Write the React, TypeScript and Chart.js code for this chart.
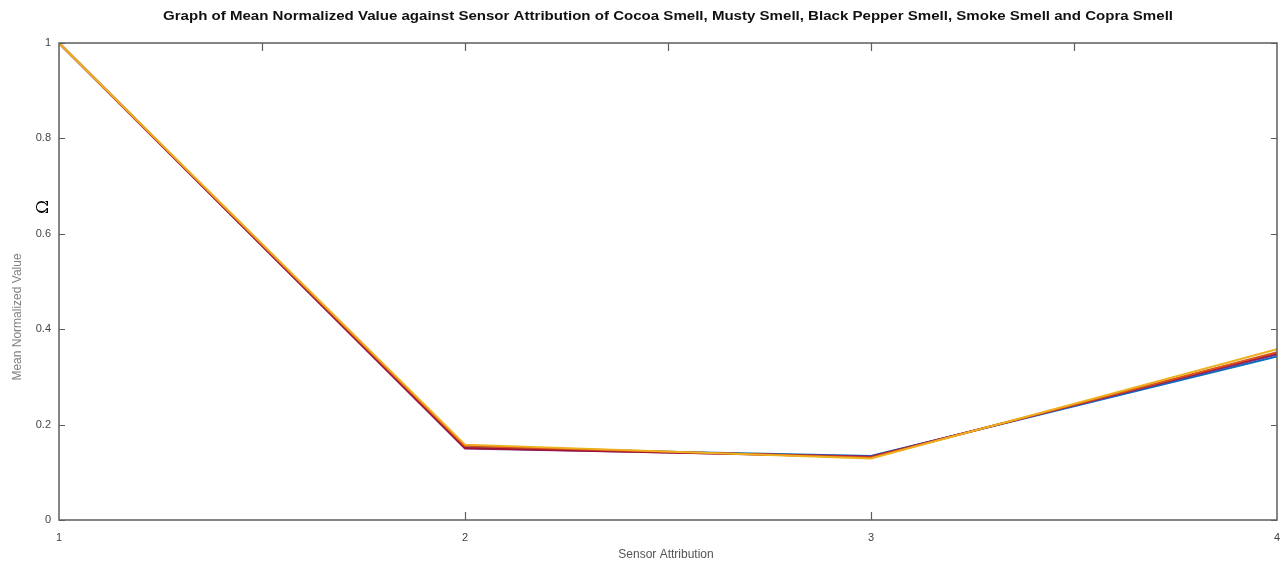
import React, { useEffect, useRef } from "react";
import { Chart, registerables } from "chart.js";

Chart.register(...registerables);

const TITLE =
  "Graph of Mean Normalized Value against Sensor Attribution of Cocoa Smell, Musty Smell, Black Pepper Smell, Smoke Smell and Copra Smell";
const X_TITLE = "Sensor Attribution";
const Y_TITLE = "Mean Normalized Value";
const OMEGA = "Ω";

const sensorAttribution = [1, 2, 3, 4];
const seriesNames = ["Cocoa Smell", "Musty Smell", "Black Pepper Smell", "Smoke Smell", "Copra Smell"];
const cocoa = [1, 0.152, 0.134, 0.343];
const musty = [1, 0.155, 0.131, 0.352];
const blackPepper = [1, 0.158, 0.129, 0.358];
const smoke = [1, 0.15, 0.133, 0.347];
const copra = [1, 0.151, 0.132, 0.35];
const seriesColors = ["#0072BD", "#D95319", "#EDB120", "#7E2F8E", "#A2142F"];
const yTicks = [0, 0.2, 0.4, 0.6, 0.8, 1];
const topTicks = [1.5, 2, 2.5, 3, 3.5];
const bottomTicks = [2, 3];

const allSeries = [cocoa, musty, blackPepper, smoke, copra];
// Chart.js paints the first dataset on top: yellow/orange on top, blue at the bottom
const drawOrder = [2, 1, 4, 3, 0];

const decor = {
  id: "decor",
  afterDraw(chart: any) {
    const { ctx, chartArea: a, scales } = chart;
    const x = scales.x;
    const y = scales.y;
    ctx.save();
    ctx.strokeStyle = "#5e5e5e";
    ctx.lineWidth = 1.5;
    ctx.strokeRect(a.left, a.top, a.right - a.left, a.bottom - a.top);
    ctx.lineWidth = 1.2;
    ctx.beginPath();
    yTicks.forEach((v) => {
      const py = Math.round(y.getPixelForValue(v)) + 0.5;
      ctx.moveTo(a.left, py);
      ctx.lineTo(a.left + 6, py);
      ctx.moveTo(a.right, py);
      ctx.lineTo(a.right - 6, py);
    });
    topTicks.forEach((v) => {
      const px = Math.round(x.getPixelForValue(v)) + 0.5;
      ctx.moveTo(px, a.top);
      ctx.lineTo(px, a.top + 8);
    });
    bottomTicks.forEach((v) => {
      const px = Math.round(x.getPixelForValue(v)) + 0.5;
      ctx.moveTo(px, a.bottom);
      ctx.lineTo(px, a.bottom - 8);
    });
    ctx.stroke();

    ctx.fillStyle = "#111";
    ctx.font = "bold 12px 'Liberation Sans', Arial, sans-serif";
    ctx.textAlign = "center";
    ctx.textBaseline = "middle";
    const w = ctx.measureText(TITLE).width;
    ctx.save();
    ctx.translate(668, 17);
    ctx.scale(1010 / w, 1);
    ctx.fillText(TITLE, 0, 0);
    ctx.restore();

    ctx.fillStyle = "#555";
    ctx.font = "12px 'Liberation Sans', Arial, sans-serif";
    ctx.fillText(X_TITLE, 666, 555);

    ctx.save();
    ctx.translate(18, 317);
    ctx.rotate(-Math.PI / 2);
    ctx.fillStyle = "#808080";
    ctx.fillText(Y_TITLE, 0, 0);
    ctx.restore();

    ctx.save();
    ctx.translate(44, 207);
    ctx.rotate(-Math.PI / 2);
    ctx.fillStyle = "#000";
    ctx.font = "17px 'DejaVu Serif', serif";
    ctx.fillText(OMEGA, 0, 0);
    ctx.restore();
    ctx.restore();
  },
};

export default function App() {
  const ref = useRef<HTMLCanvasElement | null>(null);
  useEffect(() => {
    if (!ref.current) return;
    const datasets = drawOrder.map((i) => ({
      label: seriesNames[i],
      data: sensorAttribution.map((xv, k) => ({ x: xv, y: allSeries[i][k] })),
      borderColor: seriesColors[i],
      backgroundColor: seriesColors[i],
      borderWidth: 2,
      pointRadius: 0,
      tension: 0,
      fill: false,
    }));
    const chart = new Chart(ref.current, {
      type: "line",
      data: { datasets },
      plugins: [decor],
      options: {
        responsive: false,
        animation: false,
        layout: { padding: { left: 0, right: 7, top: 43, bottom: 0 } },
        plugins: { legend: { display: false }, title: { display: false }, tooltip: { enabled: false } },
        scales: {
          x: {
            type: "linear",
            min: 1,
            max: 4,
            grid: { display: false, drawTicks: false },
            border: { display: false },
            ticks: {
              stepSize: 1,
              padding: 11,
              color: "#444",
              font: { size: 11, family: "'Liberation Sans', Arial, sans-serif" },
              maxRotation: 0,
            },
            afterFit: (s: any) => {
              s.height = 43;
              s.paddingLeft = 0;
              s.paddingRight = 0;
            },
          },
          y: {
            min: 0,
            max: 1,
            grid: { display: false, drawTicks: false },
            border: { display: false },
            ticks: {
              stepSize: 0.2,
              padding: 8,
              color: "#444",
              font: { size: 11, family: "'Liberation Sans', Arial, sans-serif" },
              callback: (v: any) => String(Math.round(v * 10) / 10),
            },
            afterFit: (s: any) => {
              s.width = 59;
              s.paddingTop = 0;
              s.paddingBottom = 0;
            },
          },
        },
      },
    });
    return () => chart.destroy();
  }, []);
  return (
    <div style={{ position: "absolute", left: 0, top: 0, width: 1284, height: 563, background: "#fff" }}>
      <canvas ref={ref} width={1284} height={563} />
    </div>
  );
}
